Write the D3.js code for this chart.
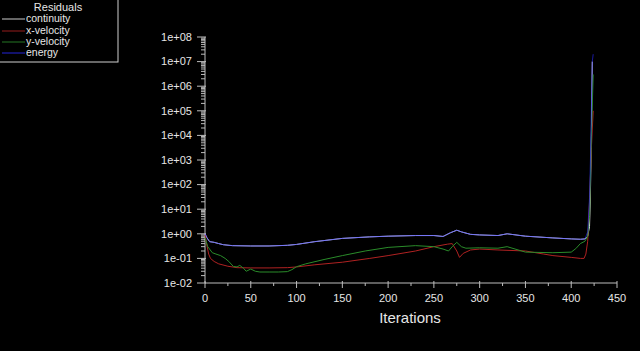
<!DOCTYPE html>
<html lang="en">
<head>
<meta charset="UTF-8" />
<title>Residuals</title>
<script src="https://d3js.org/d3.v7.min.js"></script>
<style>
  body { margin: 0; background: #000; overflow: hidden; }
  svg { display: block; background: #000; font-family: "Liberation Sans", Arial, sans-serif; }
  .axis text { fill: #e6e6e6; }
  .axis path, .axis line { stroke: #bdbdbd; }
</style>
</head>
<body>
<svg width="640" height="351"></svg>
<script>
  const width = 640, height = 351;

  // iteration / residual pairs
  const continuityIter = [0, 2, 5, 10, 15, 20, 30, 50, 70, 90, 100, 120, 150, 180, 200, 230, 250, 260, 268, 275, 280, 290, 300, 320, 330, 350, 380, 400, 410, 415, 418, 420, 421, 422, 423];
  const continuityVal  = [1.0, 0.7, 0.48, 0.45, 0.40, 0.36, 0.33, 0.32, 0.32, 0.34, 0.37, 0.48, 0.65, 0.75, 0.8, 0.85, 0.85, 0.78, 1.1, 1.4, 1.2, 0.95, 0.9, 0.85, 1.0, 0.8, 0.68, 0.62, 0.6, 0.62, 0.8, 2, 50, 1e4, 1e7];

  const xVelIter = [0, 2, 4, 6, 10, 15, 25, 35, 50, 70, 90, 100, 120, 150, 180, 200, 230, 250, 265, 270, 275, 278, 282, 290, 300, 320, 350, 370, 380, 400, 410, 414, 416, 418, 420, 422, 424];
  const xVelVal  = [0.9, 0.35, 0.15, 0.1, 0.075, 0.06, 0.048, 0.042, 0.041, 0.041, 0.042, 0.045, 0.055, 0.07, 0.1, 0.13, 0.2, 0.3, 0.38, 0.4, 0.2, 0.11, 0.16, 0.22, 0.24, 0.22, 0.2, 0.15, 0.13, 0.11, 0.1, 0.1, 0.15, 0.5, 20, 3e3, 1e5];

  const yVelIter = [0, 3, 8, 12, 17, 22, 26, 31, 35, 38, 42, 45, 50, 55, 60, 70, 80, 90, 95, 100, 110, 130, 150, 175, 200, 230, 250, 260, 266, 270, 275, 280, 285, 300, 320, 330, 350, 380, 400, 405, 410, 415, 418, 420, 422, 424];
  const yVelVal  = [0.7, 0.3, 0.17, 0.15, 0.13, 0.1, 0.075, 0.047, 0.045, 0.052, 0.04, 0.03, 0.037, 0.03, 0.028, 0.028, 0.028, 0.029, 0.035, 0.046, 0.06, 0.09, 0.13, 0.2, 0.28, 0.33, 0.3, 0.24, 0.2, 0.3, 0.45, 0.3, 0.26, 0.27, 0.26, 0.3, 0.18, 0.17, 0.18, 0.25, 0.4, 0.5, 0.8, 5, 1e4, 3e6];

  const energyIter = [0, 2, 5, 10, 15, 20, 30, 50, 70, 90, 100, 120, 150, 180, 200, 230, 250, 260, 268, 275, 280, 290, 300, 320, 330, 350, 380, 400, 410, 415, 418, 420, 421, 422, 423, 424];
  const energyVal  = [1.0, 0.7, 0.48, 0.45, 0.40, 0.36, 0.33, 0.32, 0.32, 0.34, 0.37, 0.48, 0.65, 0.75, 0.8, 0.85, 0.85, 0.78, 1.1, 1.4, 1.2, 0.95, 0.9, 0.85, 1.0, 0.8, 0.68, 0.62, 0.6, 0.62, 1.2, 30, 1e3, 1e5, 1e7, 2e7];

  const seriesNames = ["continuity", "x-velocity", "y-velocity", "energy"];
  const seriesColors = ["#f0f0f0", "#b02222", "#2a8c2a", "#2a2aff"];
  const xTicks = [0, 50, 100, 150, 200, 250, 300, 350, 400, 450];
  const yTicks = [1e-2, 1e-1, 1e0, 1e1, 1e2, 1e3, 1e4, 1e5, 1e6, 1e7, 1e8];

  const series = [
    { name: seriesNames[0], color: seriesColors[0], pts: d3.zip(continuityIter, continuityVal), op: 1 },
    { name: seriesNames[1], color: seriesColors[1], pts: d3.zip(xVelIter, xVelVal), op: 1 },
    { name: seriesNames[2], color: seriesColors[2], pts: d3.zip(yVelIter, yVelVal), op: 1 },
    { name: seriesNames[3], color: seriesColors[3], pts: d3.zip(energyIter, energyVal), op: 0.62 }
  ];

  const x = d3.scaleLinear().domain([0, 450]).range([205, 617]);
  const y = d3.scaleLog().domain([1e-2, 1e8]).range([283, 37]);

  const svg = d3.select("svg");

  // y axis
  const yAxis = svg.append("g").attr("class", "axis").attr("transform", "translate(205,0)");
  yAxis.append("line").attr("y1", y(1e-2)).attr("y2", y(1e8));
  const minor = [];
  for (let e = -2; e < 8; e++) for (let m = 2; m < 10; m++) minor.push(m * Math.pow(10, e));
  yAxis.selectAll(".ymin").data(minor).join("line")
    .attr("x1", -4).attr("x2", 0).attr("y1", d => y(d)).attr("y2", d => y(d));
  yAxis.selectAll(".ymaj").data(yTicks).join("line")
    .attr("x1", -8).attr("x2", 1).attr("y1", d => y(d)).attr("y2", d => y(d));
  const fmt = d => {
    const e = Math.round(Math.log10(d));
    return "1e" + (e < 0 ? "-" : "+") + String(Math.abs(e)).padStart(2, "0");
  };
  yAxis.selectAll("text").data(yTicks).join("text")
    .attr("x", -13).attr("y", d => y(d)).attr("dy", "0.35em")
    .attr("text-anchor", "end").attr("font-size", 11).text(fmt);

  // x axis
  const xAxis = svg.append("g").attr("class", "axis").attr("transform", "translate(0,283)");
  xAxis.append("line").attr("x1", x(0)).attr("x2", x(450));
  xAxis.selectAll(".xmin").data(d3.range(25, 450, 50)).join("line")
    .attr("x1", d => x(d)).attr("x2", d => x(d)).attr("y1", 0).attr("y2", 3);
  xAxis.selectAll(".xmaj").data(xTicks).join("line")
    .attr("x1", d => x(d)).attr("x2", d => x(d)).attr("y1", -2).attr("y2", 5);
  xAxis.selectAll("text").data(xTicks).join("text")
    .attr("x", d => x(d)).attr("y", 15).attr("dy", "0.35em")
    .attr("text-anchor", "middle").attr("font-size", 11).text(d => d);
  svg.append("text").attr("x", 410).attr("y", 318).attr("dy", "0.35em")
    .attr("text-anchor", "middle").attr("font-size", 15).attr("fill", "#e6e6e6")
    .text("Iterations");

  // lines
  const line = d3.line().x(d => x(d[0])).y(d => y(d[1]));
  svg.append("g").selectAll("path").data(series).join("path")
    .attr("d", d => line(d.pts))
    .attr("fill", "none")
    .attr("stroke", d => d.color)
    .attr("stroke-opacity", d => d.op)
    .attr("stroke-width", 1);

  // legend
  const lg = svg.append("g");
  lg.append("rect").attr("x", -1).attr("y", -1).attr("width", 119).attr("height", 63)
    .attr("fill", "#000").attr("stroke", "#cfcfcf");
  lg.append("text").attr("x", 58).attr("y", 7).attr("dy", "0.35em")
    .attr("text-anchor", "middle").attr("font-size", 11).attr("fill", "#e6e6e6")
    .text("Residuals");
  const rowY = [19, 31, 42, 53];
  const rows = lg.selectAll(".row").data(series).join("g")
    .attr("transform", (d, i) => `translate(0,${rowY[i]})`);
  rows.append("line").attr("x1", 2).attr("x2", 25).attr("stroke", d => d.color)
    .attr("stroke-opacity", 0.85);
  rows.append("text").attr("x", 26).attr("dy", "0.33em").attr("font-size", 10.5)
    .attr("fill", "#e6e6e6").text(d => d.name);
</script>
</body>
</html>
